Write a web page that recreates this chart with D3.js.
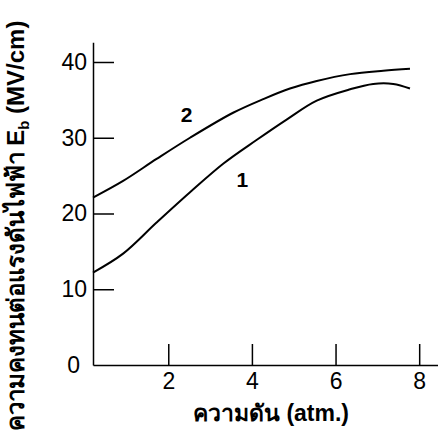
<!DOCTYPE html>
<html>
<head>
<meta charset="utf-8">
<script src="https://cdn.jsdelivr.net/npm/d3@7"></script>
<style>
  body { margin: 0; background: #fff; }
  svg text { font-family: "Liberation Sans", Arial, sans-serif; fill: #000; }
</style>
</head>
<body>
<svg id="chart" width="438" height="437"></svg>
<script>
// pressure (atm) vs breakdown strength Eb (MV/cm)
const pressure2 = [0.2, 0.92, 1.72, 2.52, 3.55, 4.27, 4.91, 5.55, 6.35, 7.14, 7.78];
const strength2 = [22.1, 24.3, 27.2, 30.0, 33.3, 35.1, 36.5, 37.5, 38.4, 38.85, 39.1];
const pressure1 = [0.2, 0.92, 1.72, 2.52, 3.32, 4.11, 4.83, 5.55, 6.35, 6.9, 7.38, 7.78];
const strength1 = [12.2, 14.7, 18.8, 22.8, 26.6, 29.7, 32.4, 34.9, 36.4, 37.1, 37.1, 36.5];
const xTicks = [2, 4, 6, 8];
const yTicks = [0, 10, 20, 30, 40];
const curveLabels = [
  { name: "2", x: 2.44, y: 33.1 },
  { name: "1", x: 3.77, y: 24.5 }
];

const svg = d3.select("#chart");

const x = d3.scaleLinear().domain([0.2, 8.45]).range([93, 438]);
const y = d3.scaleLinear().domain([0, 42.6]).range([365, 42.3]);

// y axis, ticks pointing inward
const yAxis = svg.append("g")
    .attr("transform", `translate(${x(0.2)},0)`)
    .call(d3.axisLeft(y).tickValues(yTicks).tickSize(-21).tickSizeOuter(0).tickPadding(6));
yAxis.selectAll("text").style("font-size", "23px");
yAxis.selectAll(".tick").filter(d => d === 0).select("text").attr("x", -13);
yAxis.selectAll(".tick").filter(d => d === 0).select("line").remove();

// x axis
const xAxis = svg.append("g")
    .attr("transform", `translate(0,${y(0)})`)
    .call(d3.axisBottom(x).tickValues(xTicks).tickSize(-21).tickSizeOuter(0).tickPadding(8));
xAxis.selectAll("text").style("font-size", "23px");

svg.selectAll(".domain, .tick line").attr("stroke", "#000").attr("stroke-width", 1.5);

const line = d3.line()
    .x(d => x(d[0]))
    .y(d => y(d[1]))
    .curve(d3.curveCatmullRom.alpha(0.5));

[[pressure1, strength1], [pressure2, strength2]].forEach(([px, sy]) => {
  svg.append("path")
      .datum(d3.zip(px, sy))
      .attr("fill", "none")
      .attr("stroke", "#000")
      .attr("stroke-width", 2)
      .attr("d", line);
});

svg.selectAll(".curve-label")
  .data(curveLabels)
  .join("text")
    .attr("class", "curve-label")
    .attr("x", d => x(d.x))
    .attr("y", d => y(d.y))
    .attr("text-anchor", "middle")
    .attr("dominant-baseline", "central")
    .style("font-size", "21px")
    .style("font-weight", "bold")
    .text(d => d.name);

// axis titles
svg.append("text")
    .attr("x", 271)
    .attr("y", 421)
    .attr("text-anchor", "middle")
    .style("font-size", "23px")
    .style("font-weight", "bold")
    .text("ความดัน (atm.)");

const yTitle = svg.append("text")
    .attr("transform", "translate(24,226) rotate(-90)")
    .attr("text-anchor", "middle")
    .style("font-size", "24px")
    .style("font-weight", "bold");
yTitle.append("tspan").text("ความคงทนต่อแรงดันไฟฟ้า E");
yTitle.append("tspan").attr("dy", 5).style("font-size", "15px").text("b");
yTitle.append("tspan").attr("dy", -5).text(" (MV/cm)");
</script>
</body>
</html>
